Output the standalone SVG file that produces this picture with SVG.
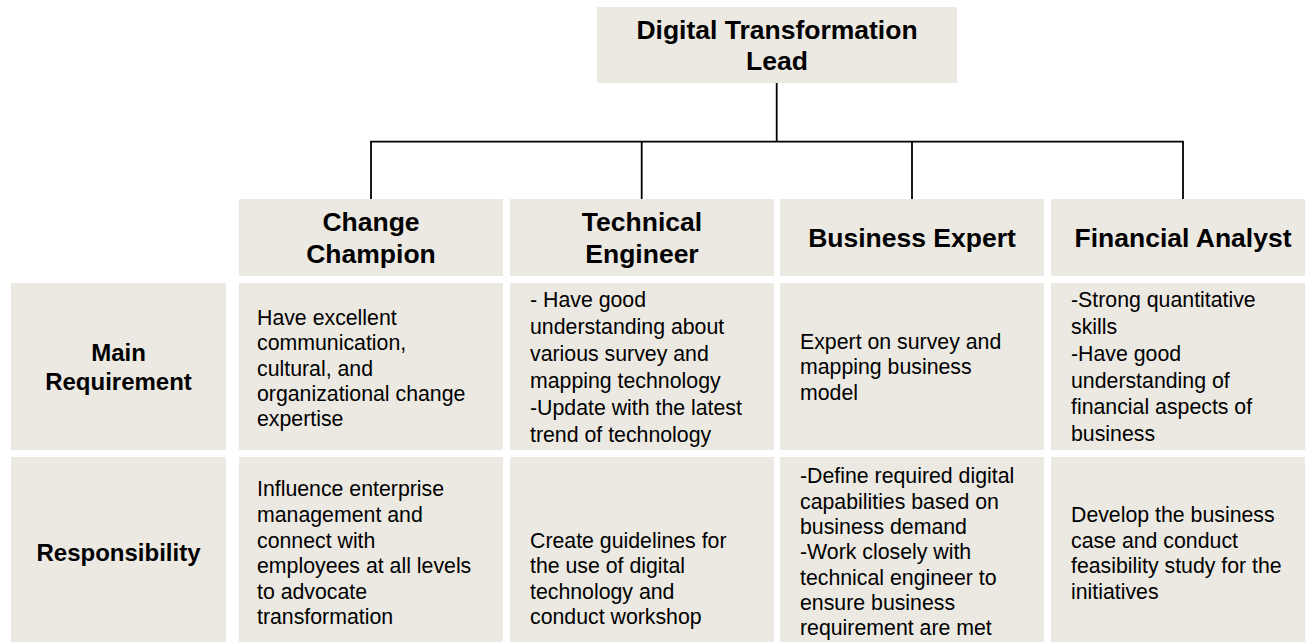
<svg xmlns="http://www.w3.org/2000/svg" width="1305" height="642" viewBox="0 0 1305 642">
  <style>
    .cell { fill: #ECE9E2; }
    .conn { stroke: #000; stroke-width: 1.8; fill: none; }
    .title { font-family: "Liberation Sans", Arial, sans-serif; font-weight: bold; font-size: 26.5px; fill: #000; text-anchor: middle; }
    .label { font-family: "Liberation Sans", Arial, sans-serif; font-weight: bold; font-size: 24px; fill: #000; text-anchor: middle; }
    .body { font-family: "Liberation Sans", Arial, sans-serif; font-size: 21.3px; fill: #000; }
  </style>
  <rect width="1305" height="642" fill="#fff"/>

  <!-- reporting lines -->
  <g id="connectors">
    <path class="conn" d="M776.7 83 V141.7"/>
    <path class="conn" d="M371 199 V141.7 H1183 V199"/>
    <path class="conn" d="M641.7 141.7 V199"/>
    <path class="conn" d="M912 141.7 V199"/>
  </g>

  <g id="lead">
    <rect class="cell" x="597" y="7" width="360" height="76"/>
    <text class="title" x="777" y="38.5">Digital Transformation</text>
    <text class="title" x="777" y="70.3">Lead</text>
  </g>

  <!-- role headers -->
  <g id="change-champion">
    <rect class="cell" x="239" y="199" width="264" height="77"/>
    <text class="title" x="371" y="231">Change</text>
    <text class="title" x="371" y="262.8">Champion</text>
  </g>
  <g id="technical-engineer">
    <rect class="cell" x="510" y="199" width="264" height="77"/>
    <text class="title" x="642" y="231">Technical</text>
    <text class="title" x="642" y="262.8">Engineer</text>
  </g>
  <g id="business-expert">
    <rect class="cell" x="780" y="199" width="264" height="77"/>
    <text class="title" x="912" y="247">Business Expert</text>
  </g>
  <g id="financial-analyst">
    <rect class="cell" x="1051" y="199" width="264" height="77"/>
    <text class="title" x="1183" y="247">Financial Analyst</text>
  </g>

  <!-- row labels -->
  <g id="main-requirement">
    <rect class="cell" x="11" y="283" width="215" height="167"/>
    <text class="label" x="118.5" y="360.8">Main</text>
    <text class="label" x="118.5" y="389.6">Requirement</text>
  </g>
  <g id="responsibility">
    <rect class="cell" x="11" y="457" width="215" height="191"/>
    <text class="label" x="118.5" y="560.5">Responsibility</text>
  </g>

  <!-- main requirement row -->
  <g id="req-change-champion">
    <rect class="cell" x="239" y="283" width="264" height="167"/>
    <text class="body">
      <tspan x="257" y="325">Have excellent</tspan>
      <tspan x="257" dy="25.3">communication,</tspan>
      <tspan x="257" dy="25.3">cultural, and</tspan>
      <tspan x="257" dy="25.3">organizational change</tspan>
      <tspan x="257" dy="25.3">expertise</tspan>
    </text>
  </g>
  <g id="req-technical-engineer">
    <rect class="cell" x="510" y="283" width="264" height="167"/>
    <text class="body">
      <tspan x="530" y="306.7">- Have good</tspan>
      <tspan x="530" dy="27">understanding about</tspan>
      <tspan x="530" dy="27">various survey and</tspan>
      <tspan x="530" dy="27">mapping technology</tspan>
      <tspan x="530" dy="27">-Update with the latest</tspan>
      <tspan x="530" dy="27">trend of technology</tspan>
    </text>
  </g>
  <g id="req-business-expert">
    <rect class="cell" x="780" y="283" width="264" height="167"/>
    <text class="body">
      <tspan x="800" y="348.8">Expert on survey and</tspan>
      <tspan x="800" dy="25.6">mapping business</tspan>
      <tspan x="800" dy="25.6">model</tspan>
    </text>
  </g>
  <g id="req-financial-analyst">
    <rect class="cell" x="1051" y="283" width="264" height="167"/>
    <text class="body">
      <tspan x="1071" y="307.2">-Strong quantitative</tspan>
      <tspan x="1071" dy="26.8">skills</tspan>
      <tspan x="1071" dy="26.8">-Have good</tspan>
      <tspan x="1071" dy="26.8">understanding of</tspan>
      <tspan x="1071" dy="26.8">financial aspects of</tspan>
      <tspan x="1071" dy="26.8">business</tspan>
    </text>
  </g>

  <!-- responsibility row -->
  <g id="resp-change-champion">
    <rect class="cell" x="239" y="457" width="264" height="191"/>
    <text class="body">
      <tspan x="257" y="496.3">Influence enterprise</tspan>
      <tspan x="257" dy="25.6">management and</tspan>
      <tspan x="257" dy="25.6">connect with</tspan>
      <tspan x="257" dy="25.6">employees at all levels</tspan>
      <tspan x="257" dy="25.6">to advocate</tspan>
      <tspan x="257" dy="25.6">transformation</tspan>
    </text>
  </g>
  <g id="resp-technical-engineer">
    <rect class="cell" x="510" y="457" width="264" height="191"/>
    <text class="body">
      <tspan x="530" y="547.5">Create guidelines for</tspan>
      <tspan x="530" dy="25.6">the use of digital</tspan>
      <tspan x="530" dy="25.6">technology and</tspan>
      <tspan x="530" dy="25.6">conduct workshop</tspan>
    </text>
  </g>
  <g id="resp-business-expert">
    <rect class="cell" x="780" y="457" width="264" height="191"/>
    <text class="body">
      <tspan x="800" y="483.3">-Define required digital</tspan>
      <tspan x="800" dy="25.3">capabilities based on</tspan>
      <tspan x="800" dy="25.3">business demand</tspan>
      <tspan x="800" dy="25.3">-Work closely with</tspan>
      <tspan x="800" dy="25.3">technical engineer to</tspan>
      <tspan x="800" dy="25.3">ensure business</tspan>
      <tspan x="800" dy="25.3">requirement are met</tspan>
    </text>
  </g>
  <g id="resp-financial-analyst">
    <rect class="cell" x="1051" y="457" width="264" height="191"/>
    <text class="body">
      <tspan x="1071" y="521.9">Develop the business</tspan>
      <tspan x="1071" dy="25.6">case and conduct</tspan>
      <tspan x="1071" dy="25.6">feasibility study for the</tspan>
      <tspan x="1071" dy="25.6">initiatives</tspan>
    </text>
  </g>
</svg>
